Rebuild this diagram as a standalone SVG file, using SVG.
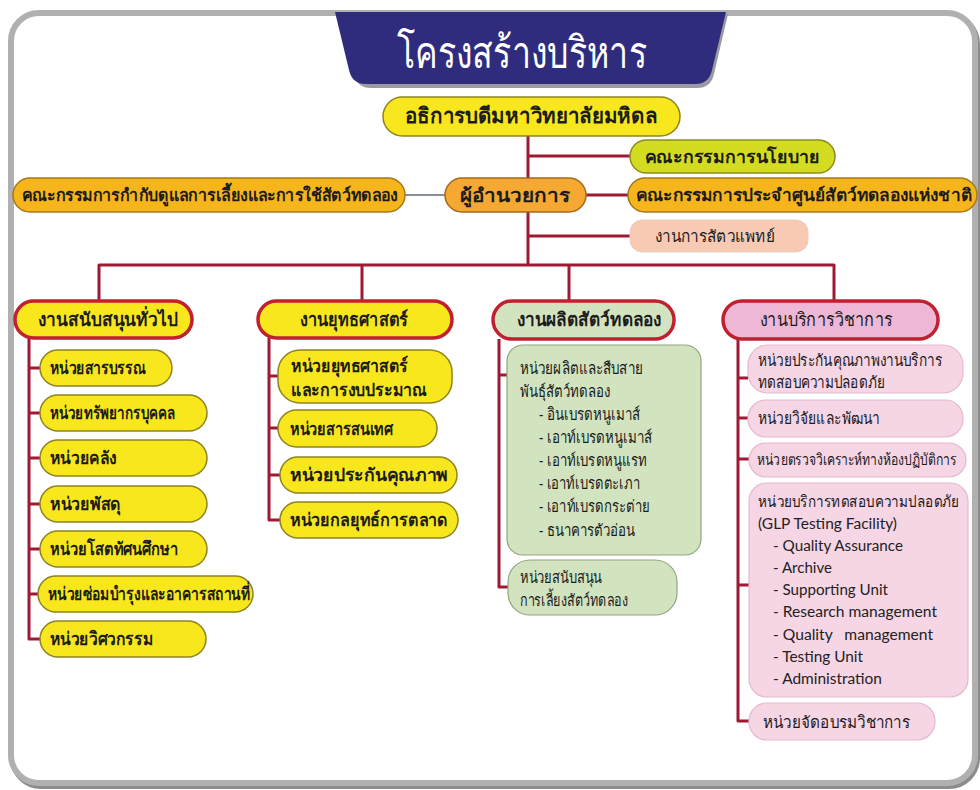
<svg xmlns="http://www.w3.org/2000/svg" width="980" height="790" viewBox="0 0 980 790">
<style>
.th{font-family:"Noto Sans","DejaVu Sans",sans-serif;fill:#1c1c1c}
.b{font-weight:bold}
.en{font-family:Lato,"Open Sans",sans-serif;fill:#222;font-size:15.5px}
.yel{fill:#f8e71c;stroke:#8d8420;stroke-width:1.5}
.br{stroke:#c0202f;stroke-width:3.5}
.grn{fill:#d2e3bf;stroke:#93a67f;stroke-width:1.2}
.pnk{fill:#f6d5e5;stroke:#e4b9cf;stroke-width:1.2}
.con{fill:none;stroke:#9e1a34;stroke-width:3;stroke-linejoin:round}
</style>
<rect x="0" y="0" width="980" height="790" fill="#ffffff"/>
<rect x="13" y="16" width="964" height="770" rx="28" fill="none" stroke="#8c8c8c" stroke-width="6"/>
<rect x="11" y="13" width="964" height="770" rx="28" fill="#ffffff" stroke="#b0b0b0" stroke-width="6"/>

<g id="title">
<path d="M339 14 L728 14 L714 74 Q711 88 697 88 L371 88 Q357 88 354 74 Z" fill="#9a9aa2"/>
<path d="M335 12 L726 12 L712 70 Q709 84 695 84 L366 84 Q352 84 349 70 Z" fill="#2f2c7e"/>
<text x="522" y="68" text-anchor="middle" class="th" style="fill:#ffffff;font-size:44px" textLength="250" lengthAdjust="spacingAndGlyphs">โครงสร้างบริหาร</text>
</g>

<g id="connectors">
<path class="con" d="M528 135 V265"/>
<path class="con" d="M528 156 H631"/>
<path class="con" d="M585 195 H629"/>
<path class="con" d="M528 236 H631"/>
<path d="M405 195 H446" fill="none" stroke="#8a8f96" stroke-width="2"/>
<path class="con" d="M99 301 V265 H834 V301"/>
<path class="con" d="M362 265 V301"/>
<path class="con" d="M569 265 V301"/>
<path class="con" d="M29 338 V639 H40 M29 368 H40 M29 413 H40 M29 458 H40 M29 504 H40 M29 549 H40 M29 594 H40"/>
<path class="con" d="M269 338 V520 H280 M269 376 H278 M269 428 H278 M269 475 H280"/>
<path class="con" d="M499 339 V587 H508 M499 375 H507"/>
<path class="con" d="M738 339 V721 H749 M738 378 H748 M738 418 H748 M738 459 H749 M738 585 H749"/>
</g>

<g id="president">
<rect x="383" y="97" width="297" height="39" rx="19.5" class="yel"/>
<text x="531" y="123" text-anchor="middle" class="th b" style="font-size:21px" textLength="253" lengthAdjust="spacingAndGlyphs">อธิการบดีมหาวิทยาลัยมหิดล</text>
</g>
<g id="policy">
<rect x="630" y="140" width="205" height="33" rx="16.5" fill="#d4dc22" stroke="#8a8c22" stroke-width="1.5"/>
<text x="732" y="163" text-anchor="middle" class="th b" style="font-size:18px" textLength="175" lengthAdjust="spacingAndGlyphs">คณะกรรมการนโยบาย</text>
</g>
<g id="director">
<rect x="445" y="178" width="141" height="34" rx="17" fill="#f5a832" stroke="#a46b1c" stroke-width="1.5"/>
<text x="515" y="202" text-anchor="middle" class="th b" style="font-size:19px" textLength="110" lengthAdjust="spacingAndGlyphs">ผู้อำนวยการ</text>
</g>
<g id="animal-care-committee">
<rect x="13" y="178" width="392" height="34" rx="17" fill="#f7b51c" stroke="#a4781c" stroke-width="1.5"/>
<text x="210" y="201" text-anchor="middle" class="th b" style="font-size:17px" textLength="376" lengthAdjust="spacingAndGlyphs">คณะกรรมการกำกับดูแลการเลี้ยงและการใช้สัตว์ทดลอง</text>
</g>
<g id="national-committee">
<rect x="628" y="178" width="349" height="34" rx="17" fill="#f7b51c" stroke="#a4781c" stroke-width="1.5"/>
<text x="804" y="201" text-anchor="middle" class="th b" style="font-size:17px" textLength="336" lengthAdjust="spacingAndGlyphs">คณะกรรมการประจำศูนย์สัตว์ทดลองแห่งชาติ</text>
</g>
<g id="vet">
<rect x="630" y="220" width="178" height="32" rx="12" fill="#f8c9b3" stroke="#ead0c4" stroke-width="1"/>
<text x="715" y="242" text-anchor="middle" class="th" style="font-size:16.5px" textLength="120" lengthAdjust="spacingAndGlyphs">งานการสัตวแพทย์</text>
</g>

<g id="branch-general">
<rect x="15" y="301" width="177" height="37" rx="18.5" fill="#f8e71c" class="br"/>
<text x="108" y="326" text-anchor="middle" class="th b" style="font-size:19px" textLength="140" lengthAdjust="spacingAndGlyphs">งานสนับสนุนทั่วไป</text>
</g>
<g id="branch-strategy">
<rect x="258" y="301" width="194" height="37" rx="18.5" fill="#f8e71c" class="br"/>
<text x="354" y="326" text-anchor="middle" class="th b" style="font-size:19px" textLength="108" lengthAdjust="spacingAndGlyphs">งานยุทธศาสตร์</text>
</g>
<g id="branch-production">
<rect x="493" y="301" width="181" height="38" rx="19" fill="#d2e3bf" class="br"/>
<text x="589" y="326" text-anchor="middle" class="th b" style="font-size:19px" textLength="145" lengthAdjust="spacingAndGlyphs">งานผลิตสัตว์ทดลอง</text>
</g>
<g id="branch-service">
<rect x="723" y="301" width="215" height="38" rx="19" fill="#eeb7d5" class="br"/>
<text x="826" y="326" text-anchor="middle" class="th" style="font-size:19px" textLength="133" lengthAdjust="spacingAndGlyphs">งานบริการวิชาการ</text>
</g>

<g id="u-saraban"><rect x="40" y="350" width="132" height="36" rx="18" class="yel"/><text x="50" y="374" class="th b" style="font-size:18px" textLength="96" lengthAdjust="spacingAndGlyphs">หน่วยสารบรรณ</text></g>
<g id="u-hr"><rect x="40" y="395" width="167" height="36" rx="18" class="yel"/><text x="50" y="419" class="th b" style="font-size:18px" textLength="125" lengthAdjust="spacingAndGlyphs">หน่วยทรัพยากรบุคคล</text></g>
<g id="u-finance"><rect x="40" y="440" width="167" height="36" rx="18" class="yel"/><text x="50" y="464" class="th b" style="font-size:18px" textLength="67" lengthAdjust="spacingAndGlyphs">หน่วยคลัง</text></g>
<g id="u-supply"><rect x="40" y="486" width="167" height="36" rx="18" class="yel"/><text x="50" y="510" class="th b" style="font-size:18px" textLength="71" lengthAdjust="spacingAndGlyphs">หน่วยพัสดุ</text></g>
<g id="u-av"><rect x="40" y="531" width="167" height="36" rx="18" class="yel"/><text x="50" y="555" class="th b" style="font-size:18px" textLength="128" lengthAdjust="spacingAndGlyphs">หน่วยโสตทัศนศึกษา</text></g>
<g id="u-maintenance"><rect x="38" y="576" width="215" height="36" rx="18" class="yel"/><text x="48" y="600" class="th b" style="font-size:18px" textLength="202" lengthAdjust="spacingAndGlyphs">หน่วยซ่อมบำรุงและอาคารสถานที่</text></g>
<g id="u-engineering"><rect x="40" y="621" width="166" height="36" rx="18" class="yel"/><text x="50" y="645" class="th b" style="font-size:18px" textLength="103" lengthAdjust="spacingAndGlyphs">หน่วยวิศวกรรม</text></g>

<g id="u-strategy-budget"><rect x="278" y="350" width="174" height="53" rx="22" class="yel"/><text class="th b" style="font-size:18px"><tspan x="291" y="372" textLength="117" lengthAdjust="spacingAndGlyphs">หน่วยยุทธศาสตร์</tspan><tspan x="291" y="396" textLength="136" lengthAdjust="spacingAndGlyphs">และการงบประมาณ</tspan></text></g>
<g id="u-it"><rect x="278" y="410" width="159" height="37" rx="18.5" class="yel"/><text x="290" y="435" class="th b" style="font-size:18px" textLength="103" lengthAdjust="spacingAndGlyphs">หน่วยสารสนเทศ</text></g>
<g id="u-qa"><rect x="280" y="457" width="177" height="36" rx="18" class="yel"/><text x="290" y="481" class="th b" style="font-size:18px" textLength="158" lengthAdjust="spacingAndGlyphs">หน่วยประกันคุณภาพ</text></g>
<g id="u-marketing"><rect x="280" y="502" width="178" height="36" rx="18" class="yel"/><text x="290" y="526" class="th b" style="font-size:18px" textLength="158" lengthAdjust="spacingAndGlyphs">หน่วยกลยุทธ์การตลาด</text></g>

<g id="u-breeding"><rect x="507" y="345" width="194" height="210" rx="16" class="grn"/>
<text class="th" style="font-size:16.5px">
<tspan x="520" y="374" textLength="123" lengthAdjust="spacingAndGlyphs">หน่วยผลิตและสืบสาย</tspan>
<tspan x="520" y="397" textLength="90" lengthAdjust="spacingAndGlyphs">พันธุ์สัตว์ทดลอง</tspan>
<tspan x="539" y="420" textLength="101" lengthAdjust="spacingAndGlyphs">- อินเบรดหนูเมาส์</tspan>
<tspan x="539" y="443" textLength="113" lengthAdjust="spacingAndGlyphs">- เอาท์เบรดหนูเมาส์</tspan>
<tspan x="539" y="466" textLength="108" lengthAdjust="spacingAndGlyphs">- เอาท์เบรดหนูแรท</tspan>
<tspan x="539" y="489" textLength="101" lengthAdjust="spacingAndGlyphs">- เอาท์เบรดตะเภา</tspan>
<tspan x="539" y="512" textLength="111" lengthAdjust="spacingAndGlyphs">- เอาท์เบรดกระต่าย</tspan>
<tspan x="539" y="536" textLength="96" lengthAdjust="spacingAndGlyphs">- ธนาคารตัวอ่อน</tspan>
</text></g>
<g id="u-husbandry"><rect x="508" y="560" width="169" height="55" rx="22" class="grn"/>
<text class="th" style="font-size:16.5px"><tspan x="520" y="583" textLength="82" lengthAdjust="spacingAndGlyphs">หน่วยสนับสนุน</tspan><tspan x="520" y="606" textLength="108" lengthAdjust="spacingAndGlyphs">การเลี้ยงสัตว์ทดลอง</tspan></text></g>

<g id="u-service-qa"><rect x="748" y="345" width="215" height="48" rx="20" class="pnk"/>
<text class="th" style="font-size:16.5px"><tspan x="758" y="366" textLength="184" lengthAdjust="spacingAndGlyphs">หน่วยประกันคุณภาพงานบริการ</tspan><tspan x="758" y="388" textLength="127" lengthAdjust="spacingAndGlyphs">ทดสอบความปลอดภัย</tspan></text></g>
<g id="u-rd"><rect x="748" y="400" width="215" height="37" rx="18" class="pnk"/><text x="758" y="424" class="th" style="font-size:16.5px" textLength="122" lengthAdjust="spacingAndGlyphs">หน่วยวิจัยและพัฒนา</text></g>
<g id="u-lab"><rect x="749" y="443" width="217" height="34" rx="17" class="pnk"/><text x="757" y="465" class="th" style="font-size:15.5px" textLength="199" lengthAdjust="spacingAndGlyphs">หน่วยตรวจวิเคราะห์ทางห้องปฏิบัติการ</text></g>
<g id="u-glp"><rect x="749" y="483" width="219" height="214" rx="18" class="pnk"/>
<text class="th" style="font-size:16px" x="758" y="507" textLength="201" lengthAdjust="spacingAndGlyphs">หน่วยบริการทดสอบความปลอดภัย</text>
<text class="en"><tspan x="758" y="529" textLength="139" lengthAdjust="spacingAndGlyphs">(GLP Testing Facility)</tspan>
<tspan x="773" y="551" textLength="130" lengthAdjust="spacingAndGlyphs">- Quality Assurance</tspan>
<tspan x="773" y="573" textLength="59" lengthAdjust="spacingAndGlyphs">- Archive</tspan>
<tspan x="773" y="595" textLength="115" lengthAdjust="spacingAndGlyphs">- Supporting Unit</tspan>
<tspan x="773" y="617" textLength="164" lengthAdjust="spacingAndGlyphs">- Research management</tspan>
<tspan x="773" y="640" textLength="160" lengthAdjust="spacingAndGlyphs" xml:space="preserve">- Quality   management</tspan>
<tspan x="773" y="662" textLength="90" lengthAdjust="spacingAndGlyphs">- Testing Unit</tspan>
<tspan x="773" y="684" textLength="109" lengthAdjust="spacingAndGlyphs">- Administration</tspan></text></g>
<g id="u-training"><rect x="749" y="703" width="186" height="37" rx="18" class="pnk"/><text x="763" y="728" class="th" style="font-size:16.5px" textLength="147" lengthAdjust="spacingAndGlyphs">หน่วยจัดอบรมวิชาการ</text></g>
</svg>
